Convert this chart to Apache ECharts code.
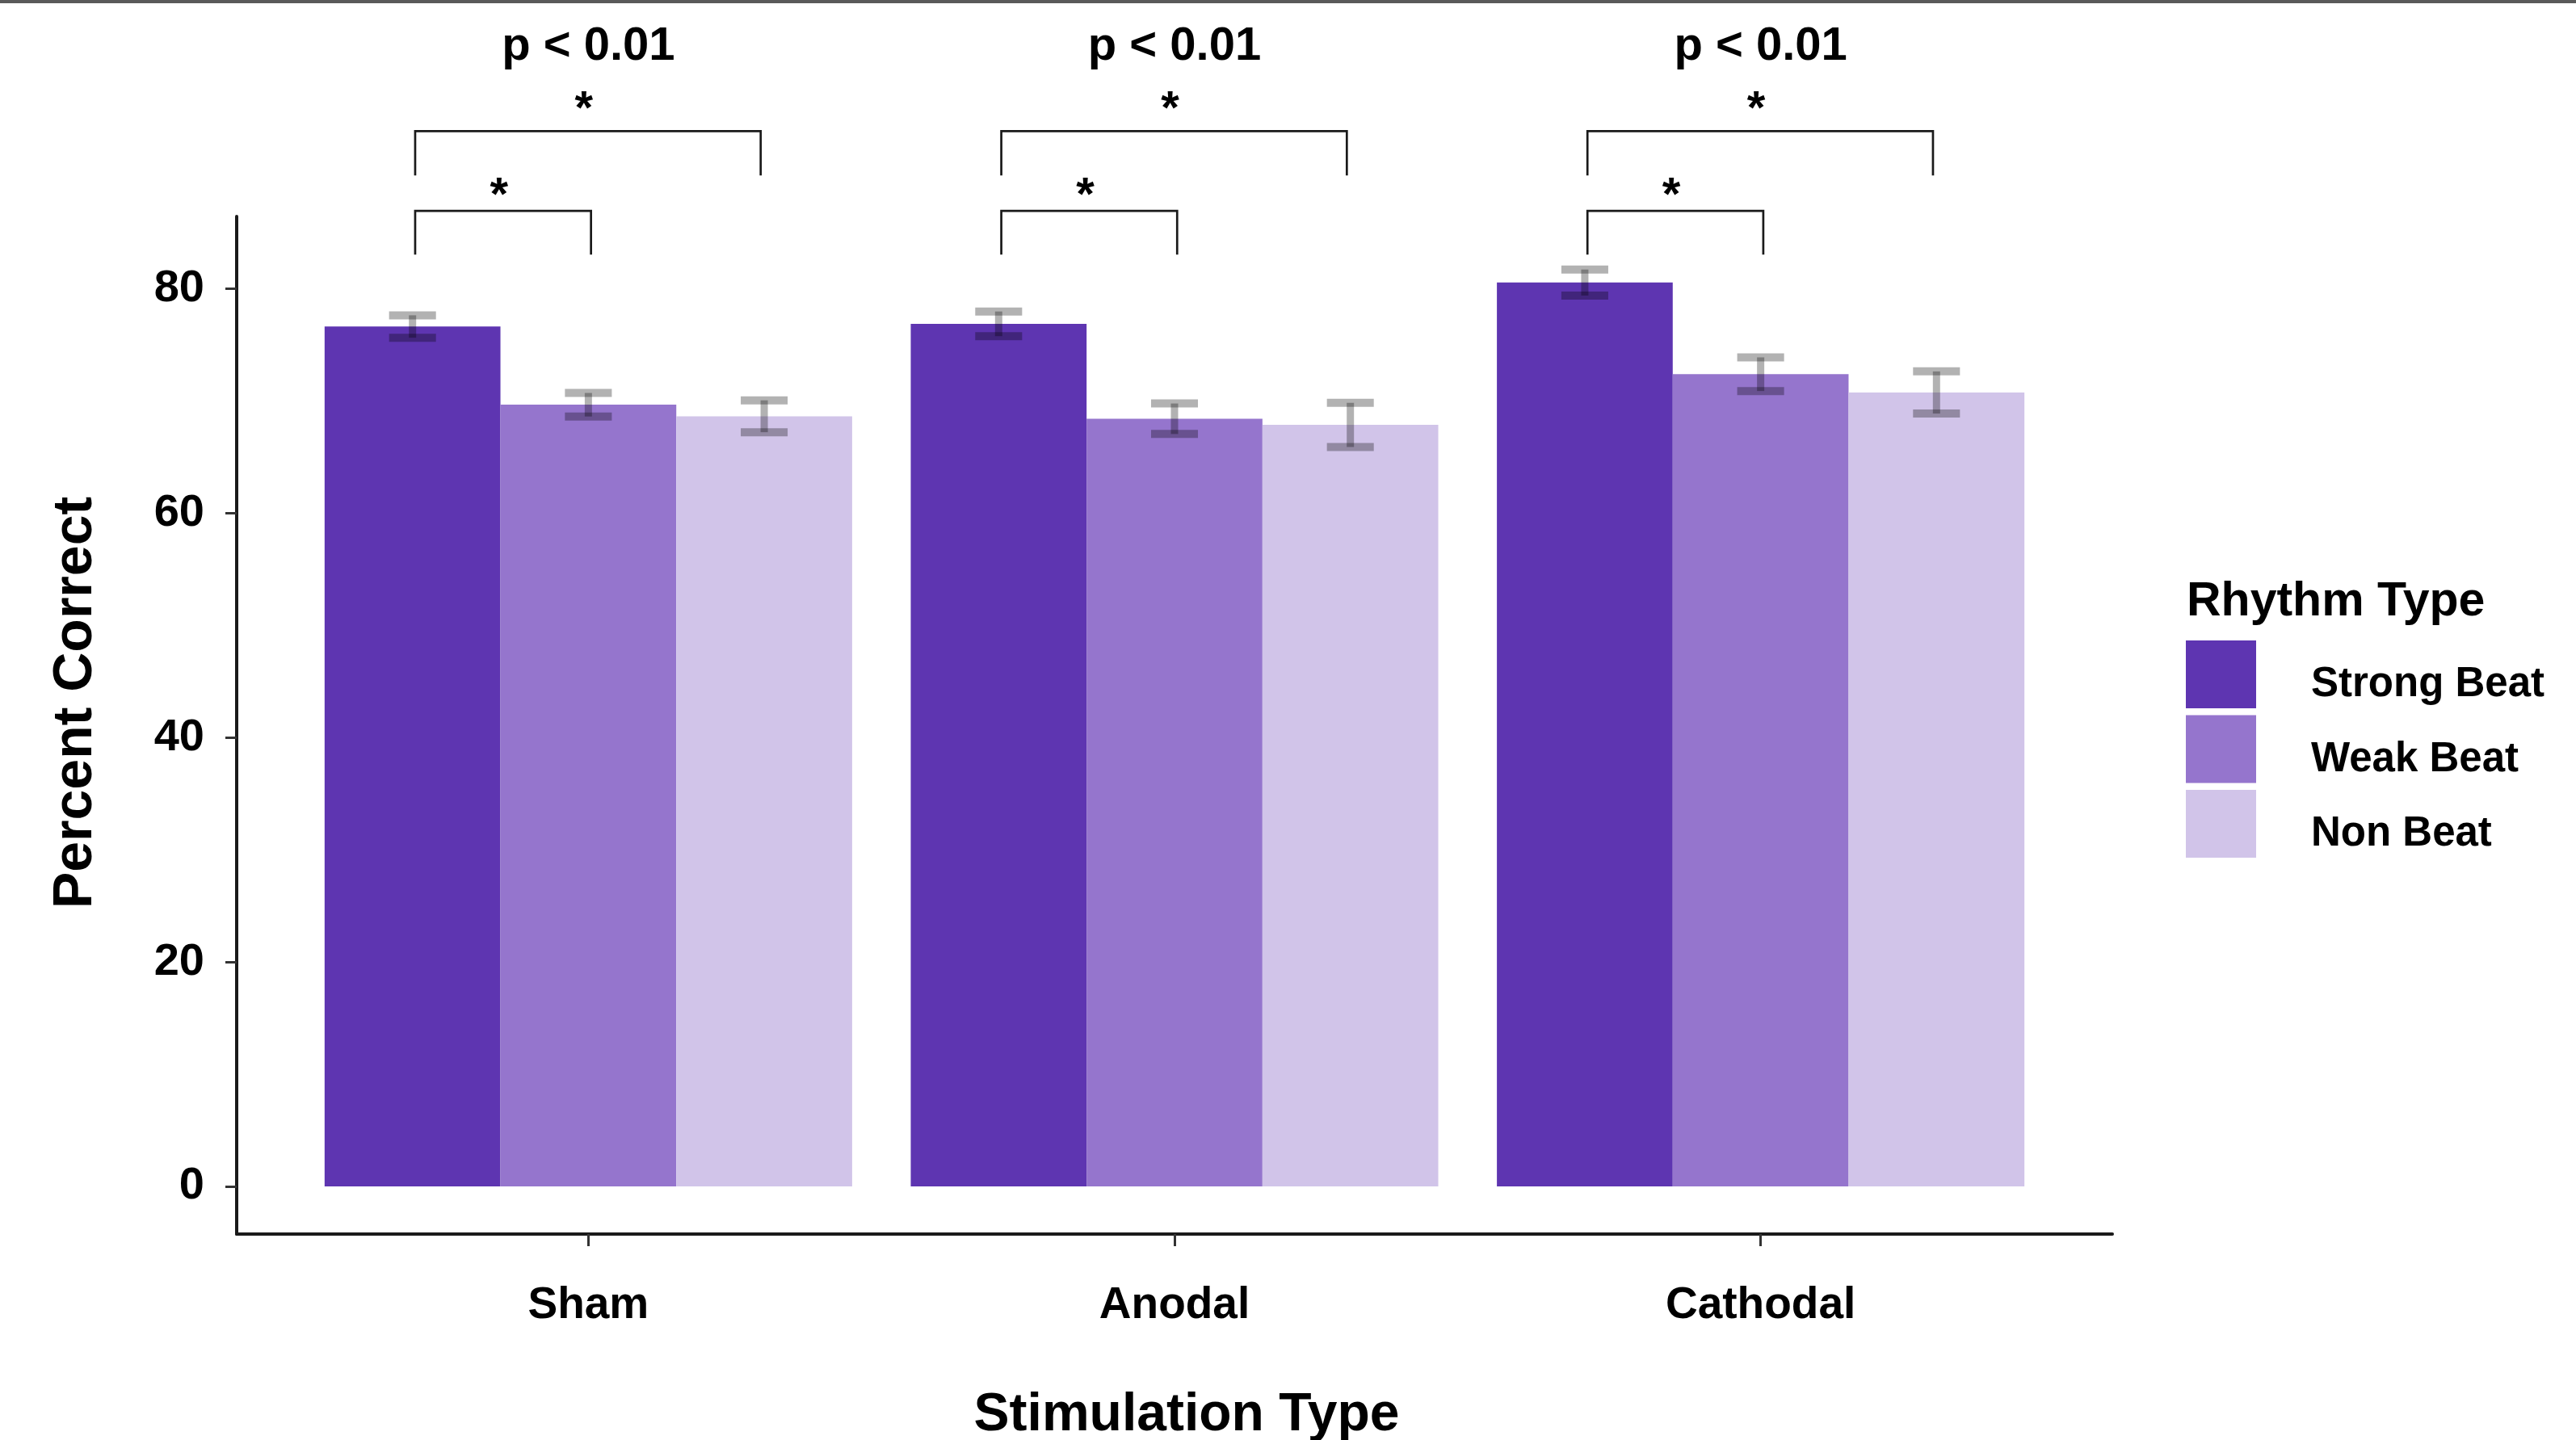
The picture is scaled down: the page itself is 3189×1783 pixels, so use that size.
<!DOCTYPE html>
<html><head><meta charset="utf-8">
<script src="https://cdn.jsdelivr.net/npm/echarts@6/dist/echarts.min.js"></script>
<style>html,body{margin:0;padding:0;background:#fff}#c{width:3189px;height:1783px}</style>
</head><body><div id="c"></div>
<script>
// ---- data ----
const categories = ['Sham', 'Anodal', 'Cathodal'];
const rhythmTypes = ['Strong Beat', 'Weak Beat', 'Non Beat'];
const strongBeat = [76.64, 76.88, 80.56];
const weakBeat = [69.67, 68.42, 72.39];
const nonBeat = [68.64, 67.87, 70.76];
const strongErr = [1.0, 1.1, 1.16];
const weakErr = [1.05, 1.36, 1.5];
const nonErr = [1.42, 1.97, 1.88];
const yTicks = [0, 20, 40, 60, 80];
const pLabel = 'p < 0.01';
const pLabelY = 101.6;
// bracket ends, in rhythm-index units within each group
const comparisonPairs = [[0.015, 1.98], [0.015, 1.015]];
const bracketTop = [94.05, 86.95];
const bracketEnd = [90.1, 83.05];
const starY = [96.8, 89.1];
const starLabel = '*';
const colors = ['#5e35b1', '#9575cd', '#d1c4e9'];

// ---- layout/style ----
const FF = '"Liberation Sans", Arial, sans-serif';
const dodge = 0.3;
const capHalf = 0.04;
const means = [strongBeat, weakBeat, nonBeat];
const errs = [strongErr, weakErr, nonErr];

const chart = echarts.init(document.getElementById('c'), null, {renderer: 'canvas'});

const barSeries = rhythmTypes.map((name, r) => ({
  name: name,
  type: 'bar',
  data: categories.map((_, i) => [i + 1, means[r][i]]),
  barWidth: '30%',
  barGap: '0%',
  itemStyle: {color: colors[r]},
  emphasis: {disabled: true},
  z: 2
}));

const errData = [];
categories.forEach((_, c) => {
  rhythmTypes.forEach((_, r) => {
    errData.push([c + 1, r, means[r][c], errs[r][c]]);
  });
});

function renderErr(params, api) {
  const c = api.value(0), r = api.value(1), m = api.value(2), e = api.value(3);
  const x = c + (r - 1) * dodge;
  const top = api.coord([x, m + e]);
  const bot = api.coord([x, m - e]);
  const half = api.size([capHalf, 0])[0];
  const st = {stroke: 'rgba(0,0,0,0.3)', lineWidth: 10, fill: null};
  return {
    type: 'group',
    children: [
      {type: 'line', shape: {x1: top[0] - half, y1: top[1], x2: top[0] + half, y2: top[1]}, style: st},
      {type: 'line', shape: {x1: top[0], y1: top[1], x2: bot[0], y2: bot[1]}, style: {stroke: 'rgba(0,0,0,0.3)', lineWidth: 9, fill: null}},
      {type: 'line', shape: {x1: bot[0] - half, y1: bot[1], x2: bot[0] + half, y2: bot[1]}, style: st}
    ]
  };
}

function renderBracket(params, api) {
  const c = api.value(0);
  const children = [];
  comparisonPairs.forEach((pair, k) => {
    const xa = c + (pair[0] - 1) * dodge;
    const xb = c + (pair[1] - 1) * dodge;
    const a1 = api.coord([xa, bracketEnd[k]]);
    const a2 = api.coord([xa, bracketTop[k]]);
    const b2 = api.coord([xb, bracketTop[k]]);
    const b1 = api.coord([xb, bracketEnd[k]]);
    children.push({
      type: 'polyline',
      shape: {points: [a1, a2, b2, b1]},
      style: {stroke: '#1a1a1a', lineWidth: 2.7, fill: null}
    });
    const s = api.coord([(xa + xb) / 2, starY[k]]);
    children.push({
      type: 'text', x: s[0] - 5, y: s[1] + 13,
      style: {text: starLabel, fontSize: 58, fontWeight: 'bold', fontFamily: FF, fill: '#000',
        align: 'center', verticalAlign: 'middle', textAlign: 'center', textVerticalAlign: 'middle'}
    });
  });
  const p = api.coord([c, pLabelY]);
  children.push({
    type: 'text', x: p[0], y: p[1],
    style: {text: pLabel, fontSize: 58, fontWeight: 'bold', fontFamily: FF, fill: '#000',
      align: 'center', verticalAlign: 'middle', textAlign: 'center', textVerticalAlign: 'middle'}
  });
  return {type: 'group', children: children};
}

const option = {
  animation: false,
  backgroundColor: '#ffffff',
  title: {
    text: 'Rhythm Type', left: 2707, top: 716, padding: 0,
    textStyle: {fontSize: 59, fontWeight: 'bold', color: '#000', fontFamily: FF}
  },
  legend: {
    data: rhythmTypes, orient: 'vertical', left: 2706, top: 793, padding: 0,
    itemWidth: 87, itemHeight: 84, itemGap: 8.5, icon: 'rect', selectedMode: false,
    formatter: name => '{t|' + name + '}',
    textStyle: {
      fontSize: 51, fontWeight: 'bold', color: '#000', fontFamily: FF,
      rich: {t: {fontSize: 51, fontWeight: 'bold', color: '#000', fontFamily: FF, padding: [26, 0, 0, 63]}}
    }
  },
  grid: {left: 293, right: 574, top: 268, bottom: 255, containLabel: false, outerBoundsMode: 'none'},
  xAxis: {
    type: 'value', min: 0.4, max: 3.6,
    axisLine: {show: true, onZero: false, lineStyle: {color: '#1a1a1a', width: 4}},
    axisTick: {show: true, customValues: [1, 2, 3], length: 15, lineStyle: {color: '#333', width: 3}},
    axisLabel: {
      customValues: [1, 2, 3], margin: 61, fontSize: 55, fontWeight: 'bold', color: '#000', fontFamily: FF,
      formatter: v => categories[Math.round(v) - 1] || ''
    },
    splitLine: {show: false},
    name: 'Stimulation Type', nameLocation: 'middle', nameGap: 192,
    nameTextStyle: {fontSize: 66, fontWeight: 'bold', color: '#000', fontFamily: FF, padding: [0, 0, 0, 30]}
  },
  yAxis: {
    type: 'value', min: -4.25, max: 86.45,
    axisLine: {show: true, lineStyle: {color: '#1a1a1a', width: 4}},
    axisTick: {show: true, customValues: yTicks, length: 14, lineStyle: {color: '#333', width: 3}},
    axisLabel: {customValues: yTicks, margin: 40, fontSize: 56, fontWeight: 'bold', color: '#000', fontFamily: FF},
    splitLine: {show: false},
    name: 'Percent Correct', nameLocation: 'middle', nameRotate: 90, nameGap: 165,
    nameTextStyle: {fontSize: 68, fontWeight: 'bold', color: '#000', fontFamily: FF, padding: [0, 0, 0, 56]}
  },
  graphic: [
    {type: 'rect', left: 0, top: 0, shape: {width: 3189, height: 4}, style: {fill: '#5a5a5a'}, silent: true}
  ],
  series: barSeries.concat([
    {
      type: 'custom', name: 'err', data: errData, renderItem: renderErr,
      encode: {x: 0, y: 2}, z: 5, clip: false, silent: true
    },
    {
      type: 'custom', name: 'brackets', data: categories.map((_, i) => [i + 1, pLabelY]),
      renderItem: renderBracket, encode: {x: 0, y: 1}, z: 5, clip: false, silent: true
    }
  ])
};
chart.setOption(option);
</script>
</body></html>
